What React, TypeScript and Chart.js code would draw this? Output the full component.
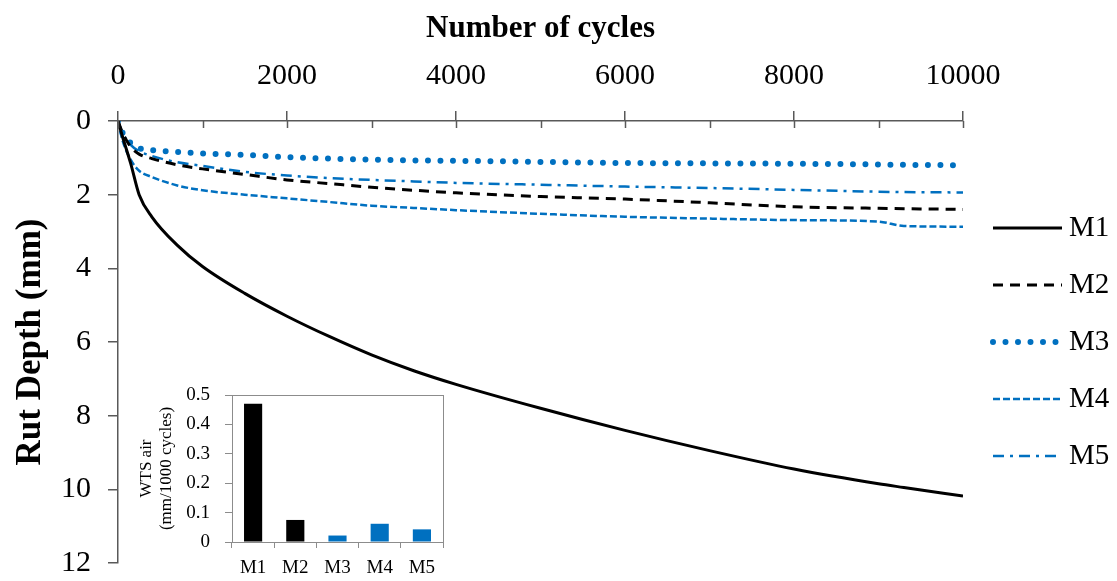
import React, { useEffect, useRef } from "react";
import { Chart, registerables } from "chart.js";

Chart.register(...registerables);

// ---------- data ----------
const cycles = [0, 50, 150, 250, 400, 700, 1000, 1500, 2000, 2500, 3000, 3500, 4000, 5000, 6000, 7000, 8000, 9000, 9300, 10000];
const m1 = [0, 0.4, 1.15, 2.0, 2.6, 3.37, 3.95, 4.68, 5.3, 5.85, 6.35, 6.78, 7.15, 7.8, 8.4, 8.95, 9.45, 9.85, 9.95, 10.18];
const m2 = [0, 0.3, 0.7, 0.9, 1.02, 1.19, 1.3, 1.45, 1.6, 1.7, 1.8, 1.88, 1.95, 2.05, 2.12, 2.22, 2.33, 2.37, 2.38, 2.4];
const m3 = [0, 0.3, 0.6, 0.74, 0.79, 0.84, 0.88, 0.92, 0.98, 1.02, 1.05, 1.07, 1.08, 1.11, 1.14, 1.15, 1.16, 1.18, 1.19, 1.2];
const m4 = [0, 0.5, 1.05, 1.35, 1.52, 1.75, 1.88, 2.0, 2.1, 2.2, 2.3, 2.36, 2.42, 2.52, 2.6, 2.65, 2.69, 2.73, 2.85, 2.87];
const m5 = [0, 0.3, 0.65, 0.82, 0.95, 1.12, 1.22, 1.38, 1.48, 1.55, 1.6, 1.64, 1.68, 1.73, 1.78, 1.82, 1.87, 1.92, 1.93, 1.94];
const seriesNames = ["M1", "M2", "M3", "M4", "M5"];

const insetCategories = ["M1", "M2", "M3", "M4", "M5"];
const wtsValues = [0.47, 0.075, 0.022, 0.062, 0.043];

// ---------- styles ----------
const FONT = "'Liberation Serif', 'Times New Roman', serif";
const BLUE = "#0070C0";
const AXIS = "#595959";
const INSET_AXIS = "#8c8c8c";

const pts = (vals: number[]) => cycles.map((c, i) => ({ x: c, y: vals[i] }));

const insideTicks = {
  id: "insideTicks",
  afterDraw(chart: any) {
    const { ctx, chartArea } = chart;
    const x = chart.scales.x;
    ctx.save();
    ctx.strokeStyle = AXIS;
    ctx.lineWidth = 1.5;
    for (let v = x.min; v <= x.max; v += 1000) {
      const px = Math.round(x.getPixelForValue(v)) + 0.5;
      ctx.beginPath();
      ctx.moveTo(px, chartArea.top);
      ctx.lineTo(px, chartArea.top + 7);
      ctx.stroke();
    }
    ctx.restore();
  },
};

const lineLegend = {
  id: "lineLegend",
  afterDraw(chart: any) {
    const { ctx, chartArea } = chart;
    const cy = (chartArea.top + chartArea.bottom) / 2;
    const x0 = chartArea.right + 30;
    const x1 = x0 + 69;
    chart.data.datasets.forEach((ds: any, i: number) => {
      const y = cy + (i - 2) * 57;
      ctx.save();
      ctx.strokeStyle = ds.borderColor;
      ctx.lineWidth = ds.borderWidth;
      ctx.setLineDash(ds.borderDash || []);
      ctx.lineCap = ds.borderCapStyle || "butt";
      ctx.beginPath();
      ctx.moveTo(x0, y);
      ctx.lineTo(x1, y);
      ctx.stroke();
      ctx.setLineDash([]);
      ctx.fillStyle = "#000";
      ctx.font = `29px ${FONT}`;
      ctx.textBaseline = "middle";
      ctx.textAlign = "left";
      ctx.fillText(ds.label, x1 + 7, y);
      ctx.restore();
    });
  },
};

const insetBox = {
  id: "insetBox",
  afterDraw(chart: any) {
    const { ctx, chartArea } = chart;
    ctx.save();
    ctx.strokeStyle = INSET_AXIS;
    ctx.lineWidth = 1;
    ctx.strokeRect(
      Math.round(chartArea.left) + 0.5,
      Math.round(chartArea.top) + 0.5,
      Math.round(chartArea.right - chartArea.left),
      Math.round(chartArea.bottom - chartArea.top)
    );
    ctx.restore();
  },
};

export default function App() {
  const mainRef = useRef<HTMLCanvasElement | null>(null);
  const insetRef = useRef<HTMLCanvasElement | null>(null);

  useEffect(() => {
    const styles = [
      { color: "#000", width: 3, dash: [] as number[], cap: "butt" },
      { color: "#000", width: 3, dash: [10, 7], cap: "butt" },
      { color: BLUE, width: 6, dash: [0, 12.5], cap: "round" },
      { color: BLUE, width: 2.5, dash: [7, 3], cap: "butt" },
      { color: BLUE, width: 2.5, dash: [11, 6, 3, 6], cap: "butt" },
    ];
    const seriesData = [m1, m2, m3, m4, m5];

    const main = new Chart(mainRef.current as HTMLCanvasElement, {
      type: "line",
      data: {
        datasets: seriesData.map((vals, i) => ({
          label: seriesNames[i],
          data: pts(vals),
          borderColor: styles[i].color,
          borderWidth: styles[i].width,
          borderDash: styles[i].dash,
          borderCapStyle: styles[i].cap as any,
          pointRadius: 0,
          fill: false,
          cubicInterpolationMode: "monotone" as const,
        })),
      },
      options: {
        animation: false,
        responsive: false,
        layout: { padding: { left: 0, right: 154, top: 0, bottom: 18 } },
        plugins: { legend: { display: false }, tooltip: { enabled: false } },
        scales: {
          x: {
            type: "linear",
            position: "top",
            min: 0,
            max: 10000,
            ticks: {
              stepSize: 2000,
              callback: (v: any) => String(v),
              font: { family: FONT, size: 30 },
              color: "#000",
              padding: 17,
              maxRotation: 0,
            },
            grid: { drawOnChartArea: false, drawTicks: true, tickLength: 10, color: AXIS, lineWidth: 1.5 },
            border: { color: AXIS, width: 1.5 },
            title: {
              display: true,
              text: "Number of cycles",
              font: { family: FONT, size: 31, weight: "bold" },
              color: "#000",
              padding: { top: 10, bottom: 0 },
            },
            afterFit: (s: any) => {
              s.height = 121;
              s.paddingLeft = 0;
              s.paddingRight = 0;
            },
          },
          y: {
            type: "linear",
            reverse: true,
            min: 0,
            max: 12,
            ticks: { stepSize: 2, font: { family: FONT, size: 30 }, color: "#000", padding: 17 },
            grid: { drawOnChartArea: false, drawTicks: true, tickLength: 10, color: AXIS, lineWidth: 1.5 },
            border: { color: AXIS, width: 1.5 },
            title: {
              display: true,
              text: "Rut Depth (mm)",
              font: { family: FONT, size: 35, weight: "bold" },
              color: "#000",
              padding: { top: 10, bottom: 0 },
            },
            afterFit: (s: any) => {
              s.width = 118;
              s.paddingTop = 0;
              s.paddingBottom = 0;
            },
          },
        },
      } as any,
      plugins: [insideTicks, lineLegend],
    });

    const inset = new Chart(insetRef.current as HTMLCanvasElement, {
      type: "bar",
      data: {
        labels: insetCategories,
        datasets: [
          {
            data: wtsValues,
            backgroundColor: ["#000", "#000", BLUE, BLUE, BLUE],
            barPercentage: 0.43,
            categoryPercentage: 1,
          },
        ],
      },
      options: {
        animation: false,
        responsive: false,
        layout: { padding: { left: 0, right: 7, top: 15, bottom: 0 } },
        plugins: { legend: { display: false }, tooltip: { enabled: false } },
        scales: {
          x: {
            grid: { offset: true, drawOnChartArea: false, drawTicks: true, tickLength: 6, color: INSET_AXIS },
            border: { color: INSET_AXIS },
            ticks: { font: { family: FONT, size: 19 }, color: "#000", padding: 9 },
            afterFit: (s: any) => {
              s.height = 39;
              s.paddingLeft = 0;
              s.paddingRight = 0;
            },
          },
          y: {
            min: 0,
            max: 0.5,
            ticks: { stepSize: 0.1, font: { family: FONT, size: 19 }, color: "#000", padding: 15 },
            grid: { drawOnChartArea: false, drawTicks: true, tickLength: 7, color: INSET_AXIS },
            border: { color: INSET_AXIS },
            title: {
              display: true,
              text: ["WTS air", "(mm/1000 cycles)"],
              font: { family: FONT, size: 17 },
              color: "#000",
              padding: { top: 6, bottom: 0 },
            },
            afterFit: (s: any) => {
              s.width = 102;
              s.paddingTop = 0;
              s.paddingBottom = 0;
            },
          },
        },
      } as any,
      plugins: [insetBox],
    });

    return () => {
      main.destroy();
      inset.destroy();
    };
  }, []);

  return (
    <div style={{ position: "fixed", left: 0, top: 0, width: 1117, height: 581, background: "#fff" }}>
      <canvas ref={mainRef} width={1117} height={581} style={{ position: "absolute", left: 0, top: 0 }} />
      <canvas ref={insetRef} width={320} height={201} style={{ position: "absolute", left: 130, top: 380 }} />
    </div>
  );
}
